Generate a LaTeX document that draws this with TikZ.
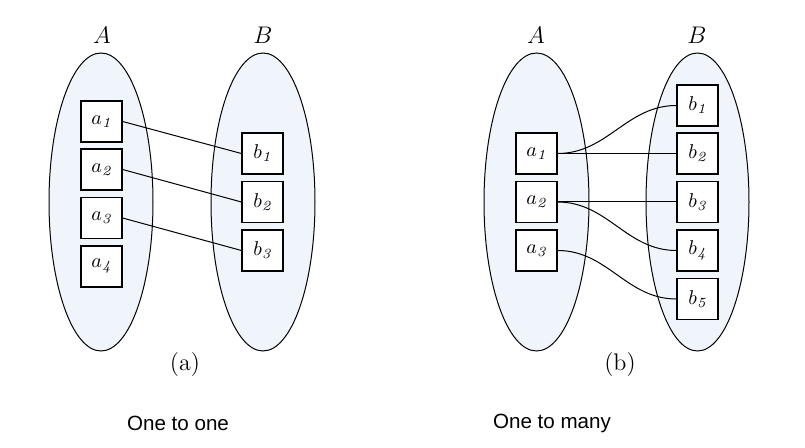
\documentclass[tikz,border=0pt]{standalone}
\usepackage{fontspec}
\newfontfamily\capfont{Liberation Sans}
\definecolor{setfill}{RGB}{239,245,251}
\begin{document}
\begin{tikzpicture}[
  x = 0.5pt, y = -0.5pt,
  setline/.style = {line width = 0.5pt, fill = setfill},
  elem/.style = {draw, line width = 0.6pt, fill = white, minimum size = 20.5pt, inner sep = 0pt},
  link/.style = {line width = 0.5pt},
  setname/.style = {font = \large},
  caption/.style = {font = \capfont\fontsize{10.3}{12}\selectfont}
  ]
  \useasboundingbox (0,0) rectangle (805,448);
  % (a) one to one
  \draw[setline] (101,202) ellipse [x radius = 52, y radius = 149];
  \draw[setline] (263,202) ellipse [x radius = 52, y radius = 149];
  \node[setname] (la) at (102,35) {$A$};
  \node[setname] (lb) at (263,35) {$B$};
  \node[elem] (a1) at (101.5,121.5) {$a_{\mathit{1}}$};
  \node[elem] (a2) at (101.5,169.5) {$a_{\mathit{2}}$};
  \node[elem] (a3) at (101.5,218) {$a_{\mathit{3}}$};
  \node[elem] (a4) at (101.5,266.5) {$a_{\mathit{4}}$};
  \node[elem] (b1) at (262.5,153.5) {$b_{\mathit{1}}$};
  \node[elem] (b2) at (262.5,202) {$b_{\mathit{2}}$};
  \node[elem] (b3) at (262.5,250.5) {$b_{\mathit{3}}$};
  \draw[link] (a1.east) -- (b1.west);
  \draw[link] (a2.east) -- (b2.west);
  \draw[link] (a3.east) -- (b3.west);
  \node[setname] (ta) at (185,365) {(a)};
  \node[caption] (ca) at (178,423) {One to one};
  % (b) one to many
  \draw[setline] (536.5,202) ellipse [x radius = 52.5, y radius = 149];
  \draw[setline] (697.5,202) ellipse [x radius = 51.5, y radius = 149];
  \node[setname] (ma) at (536,35) {$A$};
  \node[setname] (mb) at (697,35) {$B$};
  \node[elem] (p1) at (536.5,153.5) {$a_{\mathit{1}}$};
  \node[elem] (p2) at (536.5,202) {$a_{\mathit{2}}$};
  \node[elem] (p3) at (536.5,250.5) {$a_{\mathit{3}}$};
  \node[elem] (q1) at (697.5,105.5) {$b_{\mathit{1}}$};
  \node[elem] (q2) at (697.5,153.5) {$b_{\mathit{2}}$};
  \node[elem] (q3) at (697.5,202) {$b_{\mathit{3}}$};
  \node[elem] (q4) at (697.5,250.5) {$b_{\mathit{4}}$};
  \node[elem] (q5) at (697.5,299) {$b_{\mathit{5}}$};
  \draw[link] (p1.east) to[out = 0, in = 180] (q1.west);
  \draw[link] (p1.east) -- (q2.west);
  \draw[link] (p2.east) -- (q3.west);
  \draw[link] (p2.east) to[out = 0, in = 180] (q4.west);
  \draw[link] (p3.east) to[out = 0, in = 180] (q5.west);
  \node[setname] (tb) at (620,365) {(b)};
  \node[caption] (cb) at (552,423) {One to many};
\end{tikzpicture}
\end{document}
